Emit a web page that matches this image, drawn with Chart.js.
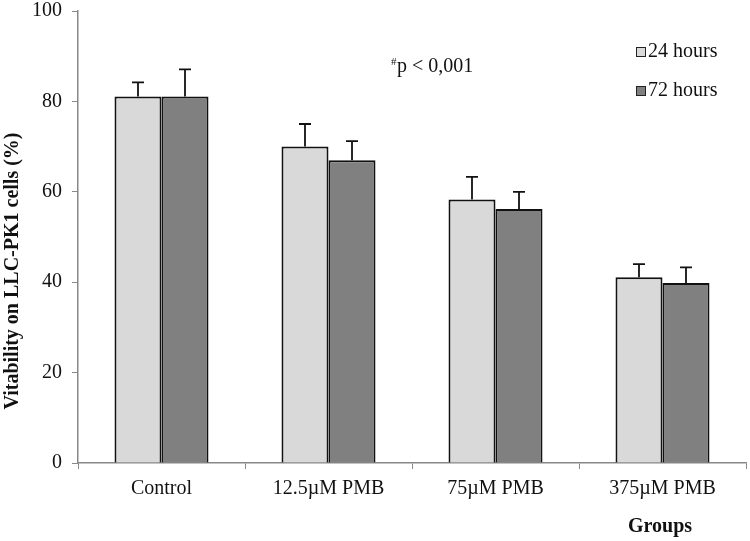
<!DOCTYPE html>
<html>
<head>
<meta charset="utf-8">
<script src="https://cdn.jsdelivr.net/npm/chart.js@4/dist/chart.umd.min.js"></script>
<style>
  html, body { margin: 0; padding: 0; background: #fff; }
  #wrap { width: 750px; height: 541px; }
</style>
</head>
<body>
<div id="wrap"><canvas id="chart" width="750" height="541"></canvas></div>
<script>
const groups = ['Control', '12.5µM PMB', '75µM PMB', '375µM PMB'];
const seriesNames = ['24 hours', '72 hours'];
const hours24 = [81.1, 70.0, 58.3, 41.1];
const hours72 = [81.1, 67.0, 56.2, 39.8];
const hours24Err = [3.1, 5.0, 5.0, 2.9];
const hours72Err = [6.0, 4.2, 3.8, 3.5];
const yTicks = [0, 20, 40, 60, 80, 100];

const serif = "'Liberation Serif', 'Times New Roman', serif";
const errs = [hours24Err, hours72Err];

// upward-only error bars with caps, plus legend / titles / annotation
const extras = {
    id: 'extras',
    afterDatasetsDraw(chart) {
        const { ctx, scales } = chart;
        ctx.save();
        ctx.strokeStyle = '#111';
        ctx.lineWidth = 1.8;
        chart.data.datasets.forEach((ds, di) => {
            chart.getDatasetMeta(di).data.forEach((bar, i) => {
                const top = scales.y.getPixelForValue(ds.data[i] + errs[di][i]);
                ctx.beginPath();
                ctx.moveTo(bar.x, bar.y);
                ctx.lineTo(bar.x, top);
                ctx.moveTo(bar.x - 6, top);
                ctx.lineTo(bar.x + 6, top);
                ctx.stroke();
            });
        });
        ctx.restore();
    },
    afterDraw(chart) {
        const { ctx } = chart;
        ctx.save();
        ctx.fillStyle = '#111';

        // legend
        ctx.font = '20px ' + serif;
        ctx.textBaseline = 'middle';
        chart.data.datasets.forEach((ds, di) => {
            const y = 52 + di * 39;
            ctx.fillStyle = ds.backgroundColor;
            ctx.fillRect(636.5, y - 4.5, 9, 9);
            ctx.strokeStyle = '#222';
            ctx.lineWidth = 1;
            ctx.strokeRect(636.5, y - 4.5, 9, 9);
            ctx.fillStyle = '#111';
            ctx.textAlign = 'left';
            ctx.fillText(ds.label, 648, y);
        });

        // significance note
        ctx.textBaseline = 'alphabetic';
        ctx.font = '11px ' + serif;
        ctx.fillText('#', 391, 65);
        ctx.font = '20px ' + serif;
        ctx.fillText('p < 0,001', 397, 72);

        // axis titles
        ctx.font = 'bold 20px ' + serif;
        ctx.textAlign = 'center';
        ctx.textBaseline = 'middle';
        ctx.fillText('Groups', 660, 527);
        ctx.translate(13, 271);
        ctx.rotate(-Math.PI / 2);
        ctx.fillText('Vitability on LLC-PK1 cells (%)', 0, 0);
        ctx.restore();
    }
};

new Chart(document.getElementById('chart'), {
    type: 'bar',
    data: {
        labels: groups,
        datasets: [
            {
                label: seriesNames[0],
                data: hours24,
                backgroundColor: '#d9d9d9',
                borderColor: '#111',
                borderWidth: 2,
                categoryPercentage: 0.563,
                barPercentage: 1,
            },
            {
                label: seriesNames[1],
                data: hours72,
                backgroundColor: '#808080',
                borderColor: '#111',
                borderWidth: 2,
                categoryPercentage: 0.563,
                barPercentage: 1,
            },
        ],
    },
    options: {
        responsive: false,
        animation: false,
        layout: { padding: { top: 11, right: 4, left: 0, bottom: 0 } },
        plugins: {
            legend: { display: false },
            tooltip: { enabled: false },
        },
        scales: {
            x: {
                afterFit: (s) => {
                    s.height = 78;
                    s.paddingLeft = 0;
                    s.paddingRight = 0;
                },
                grid: {
                    offset: true,
                    drawOnChartArea: false,
                    drawTicks: true,
                    tickLength: 6,
                    color: '#888',
                },
                border: { color: '#888', width: 1.5 },
                ticks: {
                    color: '#111',
                    padding: 8,
                    font: { family: serif, size: 20 },
                },
            },
            y: {
                min: 0,
                max: 100,
                afterFit: (s) => {
                    s.width = 78;
                    s.paddingTop = 0;
                    s.paddingBottom = 0;
                },
                afterBuildTicks: (s) => { s.ticks = yTicks.map((v) => ({ value: v })); },
                grid: {
                    drawOnChartArea: false,
                    drawTicks: true,
                    tickLength: 6,
                    color: '#888',
                },
                border: { color: '#888', width: 1.5 },
                ticks: {
                    color: '#111',
                    padding: 10,
                    font: { family: serif, size: 20 },
                },
            },
        },
    },
    plugins: [extras],
});
</script>
</body>
</html>
